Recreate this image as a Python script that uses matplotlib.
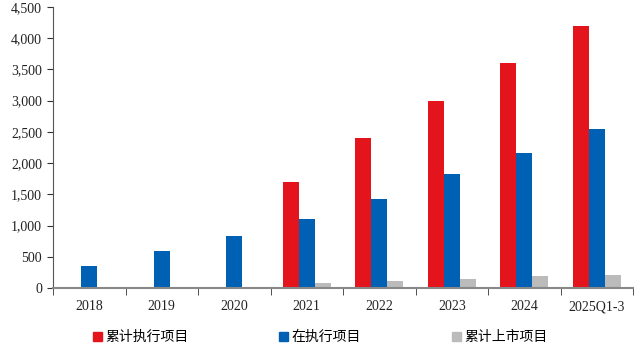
import matplotlib
matplotlib.use("Agg")
import matplotlib.pyplot as plt
import numpy as np
from matplotlib.ticker import FixedLocator, FuncFormatter
from matplotlib.patches import Patch

categories = ["2018", "2019", "2020", "2021", "2022", "2023", "2024", "2025Q1-3"]
cum_exec = [0, 0, 0, 1700, 2400, 3000, 3600, 4200]
in_exec = [350, 590, 840, 1100, 1420, 1830, 2160, 2540]
cum_listed = [0, 0, 0, 80, 110, 140, 190, 210]
series_names = ["累计执行项目", "在执行项目", "累计上市项目"]

colors = ["#E3141B", "#0060B4", "#BBBBBB"]

fig = plt.figure(figsize=(6.41, 3.52), dpi=100)
ax = fig.add_axes([0.0827, 0.182, 0.905, 0.798])

x = np.arange(len(categories))
w = 0.22
for i, (vals, c, name) in enumerate(zip([cum_exec, in_exec, cum_listed], colors, series_names)):
    vals = np.array(vals, dtype=float)
    mask = vals > 0
    ax.bar(x[mask] + (i - 1) * w, vals[mask], width=w, color=c, label=name, zorder=2)

ax.set_xlim(-0.5, len(categories) - 0.5)
ax.set_ylim(0, 4500)
ax.set_yticks(np.arange(0, 4501, 500))
ax.yaxis.set_major_formatter(FuncFormatter(lambda v, p: f"{int(v):,}"))

ax.set_xticks(x)
ax.set_xticklabels(categories)
ax.xaxis.set_minor_locator(FixedLocator(np.arange(-0.5, len(categories), 1.0)))
ax.tick_params(axis="x", which="major", length=0, pad=9)
ax.tick_params(axis="x", which="minor", length=5, direction="out", color="#333333")
ax.tick_params(axis="y", length=4, direction="out", color="#333333", pad=4)

serif = ["Liberation Serif", "DejaVu Serif"]
for lab in ax.get_xticklabels() + ax.get_yticklabels():
    lab.set_fontfamily(serif)
    lab.set_fontsize(10)
    lab.set_color("#222222")

for s in ["top", "right"]:
    ax.spines[s].set_visible(False)
ax.spines["left"].set_color("#555555")
ax.spines["bottom"].set_color("#888888")
ax.spines["bottom"].set_linewidth(1.5)

leg_x = [93 / 641, 279 / 641, 452 / 641]
for name, c, lx in zip(series_names, colors, leg_x):
    fig.legend(handles=[Patch(color=c, label=name)], loc="center left",
               bbox_to_anchor=(lx, 0.0426), frameon=False, borderpad=0, borderaxespad=0,
               prop={"family": ["Noto Sans CJK SC", "DejaVu Sans"], "size": 10},
               handlelength=0.62, handleheight=0.62, handletextpad=0.25)

fig.savefig("out.png", dpi=100)
